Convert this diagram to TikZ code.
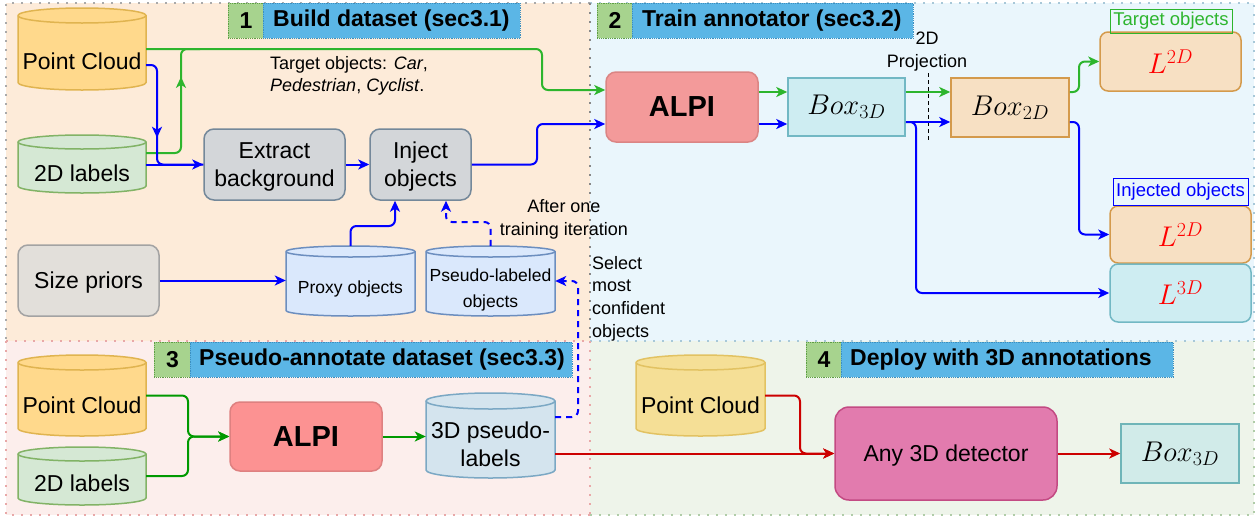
\RequirePackage{fix-cm}
\documentclass[tikz,border=0pt]{standalone}
\usepackage{fontspec}
\setmainfont{Liberation Sans}
\usetikzlibrary{arrows.meta,decorations.markings}
\definecolor{cRa}{HTML}{FDEBD9}
\definecolor{cRb}{HTML}{EAF6FC}
\definecolor{cRc}{HTML}{FCEEEC}
\definecolor{cRd}{HTML}{EEF4EA}
\definecolor{cTG}{HTML}{A7D38E}
\definecolor{cTGd}{HTML}{5E9E45}
\definecolor{cTB}{HTML}{5BB6E6}
\definecolor{cTBd}{HTML}{3B8FC0}
\definecolor{cPCf}{HTML}{FFD98C}
\definecolor{cPCd}{HTML}{E0B450}
\definecolor{cPCqf}{HTML}{F5DF96}
\definecolor{cPCqd}{HTML}{E2C262}
\definecolor{cLabf}{HTML}{D5E8D4}
\definecolor{cLabd}{HTML}{82B366}
\definecolor{cGrayf}{HTML}{D3D6D9}
\definecolor{cGrayd}{HTML}{74889A}
\definecolor{cSizef}{HTML}{E2DFDA}
\definecolor{cSized}{HTML}{A3A3A3}
\definecolor{cBluef}{HTML}{DAE8FC}
\definecolor{cBlued}{HTML}{6C8EBF}
\definecolor{cPtf}{HTML}{D4E4EE}
\definecolor{cPtd}{HTML}{7BA8C4}
\definecolor{cAlbf}{HTML}{F39A9A}
\definecolor{cAlbd}{HTML}{DB8584}
\definecolor{cAlcf}{HTML}{FC9292}
\definecolor{cAlcd}{HTML}{DE8080}
\definecolor{cBtf}{HTML}{CEEDF2}
\definecolor{cBtd}{HTML}{72B8C4}
\definecolor{cBqf}{HTML}{D1EBE9}
\definecolor{cBqd}{HTML}{6FB5B8}
\definecolor{cBdf}{HTML}{F7E0C3}
\definecolor{cBdd}{HTML}{D49A4C}
\definecolor{cDetf}{HTML}{E27BAE}
\definecolor{cDetd}{HTML}{C34A83}
\definecolor{cGa}{HTML}{2DB52D}
\definecolor{cGc}{HTML}{009900}
\definecolor{cRed}{HTML}{CC0000}
\definecolor{cLred}{HTML}{FF0000}
\definecolor{cBorderA}{HTML}{AAAAAA}
\definecolor{cBorderB}{HTML}{A8C8D8}
\definecolor{cBorderC}{HTML}{E8A8A8}
\definecolor{cBorderD}{HTML}{B0CCA8}

\newcommand\mycyl[9]{%
  \pgfmathsetmacro\cylrx{(#4-#2)/2}%
  \pgfmathsetmacro\cylcx{(#4+#2)/2}%
  \pgfmathsetmacro\cylcy{(#5+#3)/2}%
  \pgfmathsetmacro\cylw{#4-#2}%
  \pgfmathsetmacro\cylh{#5-#3}%
  \path[#7] (#2,#3+#6) -- (#2,#5-#6) arc[start angle=180,end angle=360,x radius=\cylrx pt,y radius=#6pt] -- (#4,#3+#6) arc[start angle=0,end angle=180,x radius=\cylrx pt,y radius=#6pt] -- cycle;
  \draw[#7, fill=none] (#2,#3+#6) arc[start angle=180,end angle=360,x radius=\cylrx pt,y radius=#6pt];
  \node[inner sep=0pt, minimum width=\cylw pt, minimum height=\cylh pt] (#1) at (\cylcx,\cylcy) {};
  \node[inner sep=0pt, align=center, #7-t] (#1t) at (\cylcx,#8) {#9};
}

\tikzset{
  ftA/.style={font=\fontsize{23}{28}\selectfont},
  ftM/.style={font=\fontsize{28.5}{32}\selectfont},
  ftT/.style={font=\bfseries\fontsize{23}{27}\selectfont},
  ftB/.style={font=\bfseries\fontsize{29}{33}\selectfont},
  rbox/.style={draw, rounded corners=10pt, line width=1.5pt, inner sep=0pt, align=center},
  sbox/.style={draw, line width=1.5pt, inner sep=0pt, align=center},
  tip/.style={-{Stealth[length=11pt,width=10pt,inset=3pt]}},
  conn/.style={line width=2pt, rounded corners=6pt},
  ga/.style={conn, draw=cGa},
  gc/.style={conn, draw=cGc},
  bl/.style={conn, draw=blue},
  rd/.style={conn, draw=cRed},
  dsh/.style={dash pattern=on 6pt off 5pt},
  midarr/.style={postaction={decorate}, decoration={markings, mark=at position #1 with {\arrow{Stealth[length=11pt,width=10pt,inset=3pt]}}}},
  cylpc/.style={fill=cPCf, draw=cPCd, line width=1.5pt},
  cylpcq/.style={fill=cPCqf, draw=cPCqd, line width=1.5pt},
  cyllab/.style={fill=cLabf, draw=cLabd, line width=1.5pt},
  cylbl/.style={fill=cBluef, draw=cBlued, line width=1.5pt},
  cylpt/.style={fill=cPtf, draw=cPtd, line width=1.5pt},
  cylpc-t/.style={font=\fontsize{23}{28}\selectfont},
  cylpcq-t/.style={font=\fontsize{23}{28}\selectfont},
  cyllab-t/.style={font=\fontsize{23}{28}\selectfont},
  cylbl-t/.style={font=\fontsize{17.5}{26}\selectfont},
  cylpt-t/.style={font=\fontsize{23}{28}\selectfont},
  region/.style={line width=1.5pt, dash pattern=on 2pt off 7pt},
  tnum/.style={fill=cTG, draw=cTGd, line width=0.8pt, densely dotted, inner sep=0pt, minimum width=35pt, minimum height=35pt, anchor=north west, ftT},
  tbar/.style={fill=cTB, draw=cTBd, line width=0.8pt, densely dotted, inner sep=0pt, minimum height=35pt, anchor=north west},
  ttxt/.style={anchor=west, inner sep=0pt, ftT},
}

\begin{document}
\begin{tikzpicture}[x=1pt, y=-1pt]
\useasboundingbox (0,0) rectangle (1256,517);
% regions
\fill[cRa] (6,3) rectangle (590,341);
\fill[cRb] (590,3) rectangle (1254,341);
\fill[cRc] (6,341) rectangle (590,515);
\fill[cRd] (590,341) rectangle (1254,515);
\draw[region, cBorderA] (590,3) -- (6,3) -- (6,341);
\draw[region, cBorderB] (590,3) -- (1254,3) -- (1254,341);
\draw[region, cBorderC] (6,341) -- (6,515) -- (590,515);
\draw[region, cBorderD] (590,515) -- (1254,515) -- (1254,341);
\draw[region, cBorderC] (6,341) -- (590,341);
\draw[region, cBorderB] (590,341) -- (1254,341);
\draw[region, cBorderA!80!black] (590,3) -- (590,341);
\draw[region, cBorderC] (590,341) -- (590,515);

% titles
\node[tnum] (t1n) at (228,3) {1};
\node[tbar, minimum width=257pt] (t1) at (263,3) {};
\node[ttxt] (t1t) at (273,20.5) {Build dataset (sec3.1)};
\node[tnum] (t2n) at (597,3) {2};
\node[tbar, minimum width=281pt] (t2) at (632,3) {};
\node[ttxt] (t2t) at (642,20.5) {Train annotator (sec3.2)};
\node[tnum, minimum width=36pt] (t3n) at (154,342) {3};
\node[tbar, minimum width=382pt] (t3) at (190,342) {};
\node[ttxt] (t3t) at (199,359.5) {Pseudo-annotate dataset (sec3.3)};
\node[tnum] (t4n) at (806,342) {4};
\node[tbar, minimum width=332pt] (t4) at (841,342) {};
\node[ttxt] (t4t) at (850,359.5) {Deploy with 3D annotations};

% cylinders
\mycyl{pc1}{18}{8}{146}{90}{7.5}{cylpc}{61}{Point Cloud}
\mycyl{lab1}{18}{135}{146}{193}{7}{cyllab}{173}{2D labels}
\mycyl{prox}{286}{246}{415}{316}{5.5}{cylbl}{289}{Proxy objects}
\mycyl{pseu}{426}{246}{555}{316}{5.5}{cylbl}{290}{Pseudo-labeled\\objects}
\mycyl{pc3}{18}{355}{146}{436}{7.5}{cylpc}{405}{Point Cloud}
\mycyl{lab3}{18}{447}{146}{505}{7}{cyllab}{483}{2D labels}
\mycyl{ptd}{426}{393}{555}{478}{8}{cylpt}{444}{3D pseudo-\\labels}
\mycyl{pc4}{636}{355}{765}{436}{7.5}{cylpcq}{405}{Point Cloud}

% boxes
\node[rbox, fill=cGrayf, draw=cGrayd, minimum width=141pt, minimum height=71pt, ftA, text depth=0pt] (ext) at (274.5,164.5) {Extract\\background};
\node[rbox, fill=cGrayf, draw=cGrayd, minimum width=101pt, minimum height=71pt, ftA, text depth=0pt] (inj) at (420.5,164.5) {Inject\\objects};
\node[rbox, fill=cSizef, draw=cSized, minimum width=141pt, minimum height=71pt, ftA, text depth=0pt] (size) at (88.5,280.5) {Size priors};
\node[rbox, fill=cAlbf, draw=cAlbd, minimum width=152pt, minimum height=70pt, ftB] (alpi2) at (682,107) {ALPI};
\node[sbox, fill=cBtf, draw=cBtd, minimum width=117pt, minimum height=58pt, ftM] (b3) at (846.5,107) {$Box_{3D}$};
\node[sbox, fill=cBdf, draw=cBdd, minimum width=118pt, minimum height=59pt, ftM] (b2) at (1010,107.5) {$Box_{2D}$};
\node[rbox, rounded corners=8pt, fill=cBdf, draw=cBdd, minimum width=141pt, minimum height=59pt, ftM, text=cLred] (lt) at (1170.5,61.5) {$L^{2D}$};
\node[rbox, rounded corners=8pt, fill=cBdf, draw=cBdd, minimum width=141pt, minimum height=57pt, ftM, text=cLred] (li) at (1180.5,234.5) {$L^{2D}$};
\node[rbox, rounded corners=8pt, fill=cBtf, draw=cBtd, minimum width=141pt, minimum height=58pt, ftM, text=cLred] (l3) at (1180.5,293) {$L^{3D}$};
\node[draw=cGa, text=cGa, line width=1pt, inner sep=0pt, minimum width=122pt, minimum height=24pt, font=\fontsize{18.5}{22}\selectfont] (tgtl) at (1171,21) {Target objects};
\node[draw=blue, text=blue, line width=1pt, inner sep=0pt, minimum width=135pt, minimum height=27pt, font=\fontsize{18.5}{22}\selectfont] (injl) at (1180.5,192) {Injected objects};
\node[rbox, fill=cAlcf, draw=cAlcd, minimum width=152pt, minimum height=69pt, ftB] (alpi3) at (306,436.5) {ALPI};
\node[rbox, rounded corners=14pt, fill=cDetf, draw=cDetd, minimum width=222pt, minimum height=93pt, ftA, text depth=0pt] (det) at (946,453.5) {Any 3D detector};
\node[sbox, fill=cBqf, draw=cBqd, minimum width=118pt, minimum height=59pt, ftM] (b3q) at (1180,453.5) {$Box_{3D}$};

% texts
\node[anchor=north west, inner sep=0pt, align=left, font=\fontsize{18}{22.5}\selectfont] (tgttxt) at (270,56) {Target objects: \textit{Car},\\\textit{Pedestrian}, \textit{Cyclist}.};
\node[anchor=north, inner sep=0pt, align=center, font=\fontsize{18}{23}\selectfont] (projtxt) at (927,32) {2D\\Projection};
\node[anchor=north, inner sep=0pt, align=center, font=\fontsize{18}{23}\selectfont] (aftertxt) at (564,199) {After one\\training iteration};
\node[anchor=north west, inner sep=0pt, align=left, font=\fontsize{18}{22.7}\selectfont] (seltxt) at (592,256) {Select\\most\\confident\\objects};
\draw[black, line width=1pt, dash pattern=on 4pt off 3pt] (928,73) -- (928,140);

% region 1 connectors
\draw[ga, tip] (pc1.east) -- (542,49) |- (alpi2.west |- 0,90);
\draw[ga, midarr=0.71] (lab1.east |- 0,153) -| (181,49) -- (200,49);
\draw[bl, midarr=0.535] (pc1.east |- 0,65) -| (157,164.5) -- (ext.west);
\draw[bl, tip] (lab1.east |- 0,164.5) -- (ext.west);
\draw[bl, tip] (ext.east) -- (inj.west);
\draw[bl, tip] (inj.east) -- (537,164.5) |- (alpi2.west |- 0,124);
\draw[bl, tip] (prox.north) |- (395,226) -- (inj.south -| 395,0);
\draw[bl, dsh, tip] (pseu.north) |- (446,222) -- (inj.south -| 446,0);
\draw[bl, tip] (size.east) -- (size.east -| prox.west);
\draw[bl, dsh, tip] (ptd.east |- 0,417) -- (578,417) |- (pseu.east |- 0,281);

% region 2 connectors
\draw[ga, tip] (alpi2.east |- 0,92) -- (b3.west |- 0,92);
\draw[bl, tip] (alpi2.east |- 0,124) -- (b3.west |- 0,124);
\draw[ga, tip] (b3.east |- 0,92) -- (b2.west |- 0,92);
\draw[bl, tip] (b3.east |- 0,122) -- (b2.west |- 0,122);
\draw[bl, tip] (b3.east |- 0,122) -- (916,122) |- (l3.west);
\draw[ga, tip] (b2.east |- 0,92) -- (1079,92) |- (lt.west);
\draw[bl, tip] (b2.east |- 0,122) -- (1079,122) |- (li.west);

% region 3/4 connectors
\draw[gc, tip] (pc3.east) -- (188,395.5) |- (alpi3.west);
\draw[gc, tip] (lab3.east) -- (188,476) |- (alpi3.west);
\draw[gc, tip] (alpi3.east) -- (alpi3.east -| ptd.west);
\draw[rd, tip] (ptd.east |- 0,453.5) -- (det.west);
\draw[rd, tip] (pc4.east) -- (800,395.5) |- (det.west);
\draw[rd, tip] (det.east) -- (b3q.west);
\end{tikzpicture}
\end{document}
